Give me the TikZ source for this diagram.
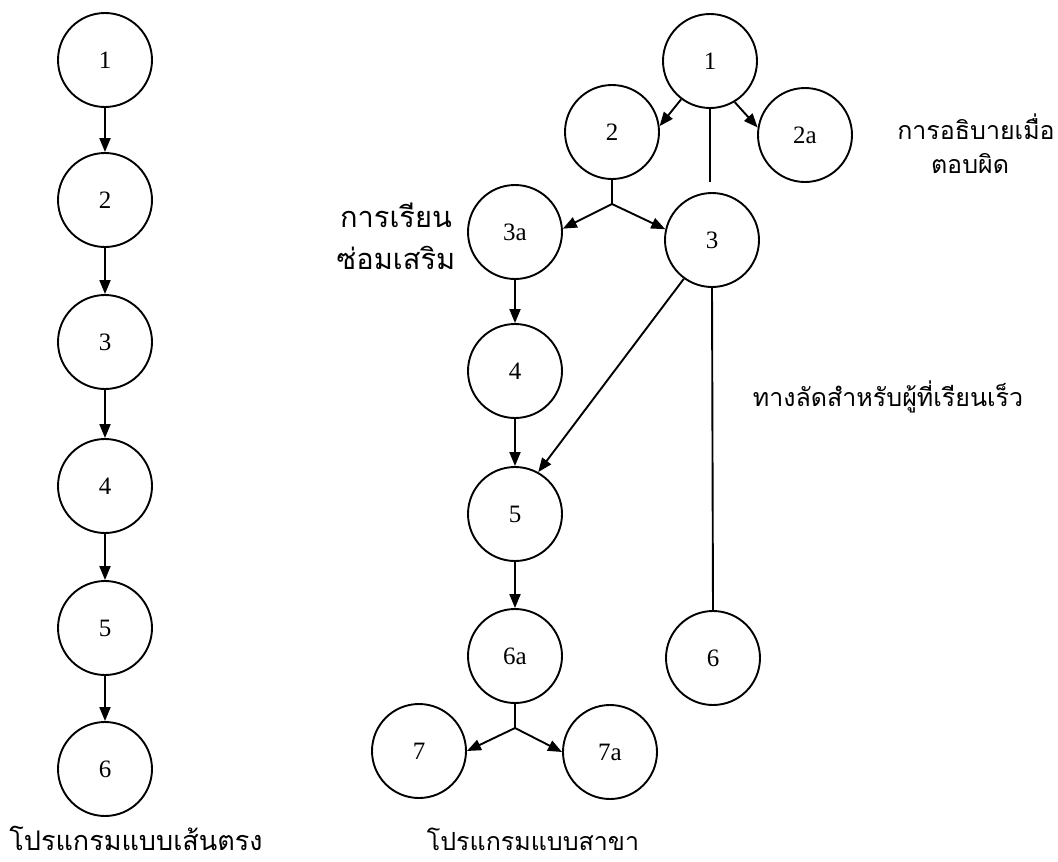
\documentclass[tikz,border=0pt]{standalone}
\usepackage{fontspec}
\setmainfont{Liberation Serif}
\newfontfamily\thai[Script=Thai]{Loma}
\usetikzlibrary{arrows.meta}
\begin{document}
\begin{tikzpicture}[x=1pt,y=-1pt,
  circ/.style={draw,circle,line width=1.9pt,minimum size=94pt,inner sep=0pt,font=\fontsize{25}{27}\selectfont},
  arr/.style={line width=1.9pt,-{Triangle[length=14pt,width=11pt]}},
  ln/.style={line width=1.9pt},
  lab/.style={font=\thai\fontsize{25}{30}\selectfont,inner sep=0pt}]
\useasboundingbox (0,0) rectangle (1058,862);
% left column
\node[circ] (L1) at (105,60) {1};
\node[circ] (L2) at (105,200) {2};
\node[circ] (L3) at (105,342) {3};
\node[circ] (L4) at (105,486) {4};
\node[circ] (L5) at (105,628) {5};
\node[circ] (L6) at (105,769) {6};
\foreach \a/\b in {L1/L2,L2/L3,L3/L4,L4/L5,L5/L6} \draw[arr] (\a) -- (\b);
\node[lab,font=\thai\fontsize{27}{30}\selectfont,anchor=base] (LT) at (136,850) {โปรแกรมแบบเส้นตรง};
% right graph
\node[circ] (R1) at (710,61) {1};
\node[circ] (R2) at (612,132) {2};
\node[circ] (R2a) at (805,135) {2a};
\node[circ] (R3a) at (515,232) {3a};
\node[circ] (R3) at (712,240) {3};
\node[circ] (R4) at (515,371) {4};
\node[circ] (R5) at (515,514) {5};
\node[circ] (R6a) at (515,656) {6a};
\node[circ] (R6) at (713,658) {6};
\node[circ] (R7) at (419,751) {7};
\node[circ] (R7a) at (610,752) {7a};
\coordinate (j1) at (710,182);
\coordinate (b2) at (612,204);
\coordinate (b6) at (515,728);
\draw[arr] (R1.233) -- (R2.7);
\draw[arr] (R1.301) -- (R2a.171);
\draw[ln] (R1.south) -- (j1);
\draw[ln] (R2.south) -- (b2);
\draw[arr] (b2) -- (R3a.4);
\draw[arr] (b2) -- (R3.167);
\draw[arr] (R3a) -- (R4);
\draw[arr] (R4) -- (R5);
\draw[arr] (R3.234) -- (R5.61);
\draw[ln] (R3.south) -- (R6.north);
\draw[arr] (R5) -- (R6a);
\draw[ln] (R6a.south) -- (b6);
\draw[arr] (b6) -- (R7.east);
\draw[arr] (b6) -- (R7a.west);
% labels
\node[lab,font=\thai\fontsize{29}{30}\selectfont] (T1) at (396,215) {การเรียน};
\node[lab,font=\thai\fontsize{29}{30}\selectfont] (T2) at (396,258) {ซ่อมเสริม};
\node[lab] (T3) at (976,127) {การอธิบายเมื่อ};
\node[lab] (T4) at (970,163) {ตอบผิด};
\node[lab] (T5) at (888,397) {ทางลัดสำหรับผู้ที่เรียนเร็ว};
\node[lab,anchor=base] (RT) at (533,850) {โปรแกรมแบบสาขา};
\end{tikzpicture}
\end{document}
